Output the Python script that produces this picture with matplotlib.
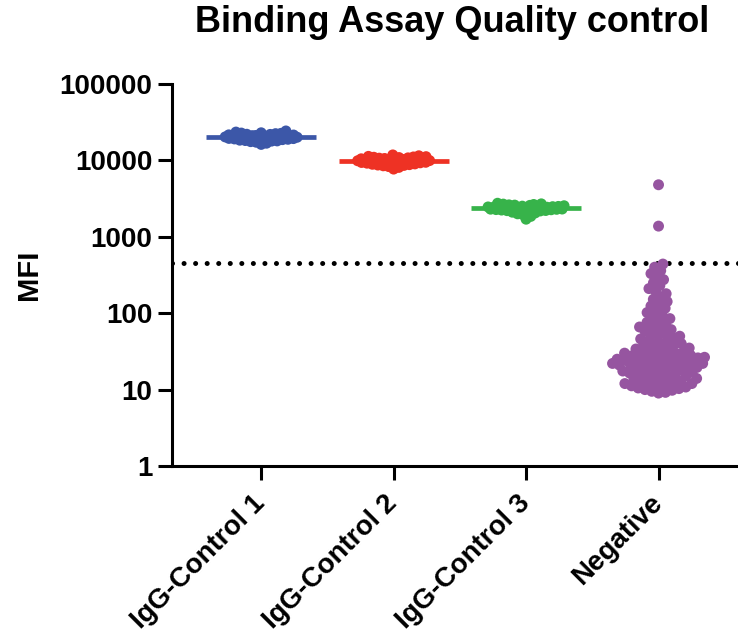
import numpy as np
import matplotlib.pyplot as plt

plt.rcParams['font.family'] = ['Liberation Sans', 'DejaVu Sans']
plt.rcParams['font.weight'] = 'bold'

# --- Data (MFI) ---
categories = ['IgG-Control 1', 'IgG-Control 2', 'IgG-Control 3', 'Negative']
colors = ['#3C57A8', '#EE3224', '#37B34A', '#9655A0']

ctrl1 = [19800, 20500, 21200, 18900, 20100, 22400, 19300, 20800, 17600, 21900,
         20300, 19100, 23500, 18400, 20600, 19700, 21500, 16800, 20000, 22000,
         19500, 18700, 20900, 24300, 19900, 21100, 17900, 20400, 19000, 22800,
         18200, 20700, 21600, 19400, 16200, 20200, 17300, 23000, 18000, 22600]
ctrl2 = [9800, 10200, 9500, 10600, 9100, 10900, 9900, 8700, 10400, 11800,
         9300, 10000, 8300, 9700, 11200, 9600, 10300, 8900, 10100, 7700,
         9400, 10700, 9200, 11500, 9850, 8500, 10500, 9000, 10050, 9650,
         11000, 8100, 9950, 10800, 9450, 10250, 8600, 11300, 8800, 11100]
ctrl3 = [2380, 2450, 2300, 2520, 2210, 2600, 2350, 2150, 2480, 2750,
         2280, 2400, 1950, 2330, 2650, 2260, 2550, 2100, 2420, 1700,
         2310, 2580, 2240, 2700, 2390, 2050, 2500, 2180, 2360, 2290,
         2620, 1850, 2410, 2460, 2200, 2340, 2270, 2440, 2000, 2680]
negative = [4800, 1380,
            440, 400, 360, 330, 300, 275, 250, 230, 210, 195, 180, 165, 152,
            142, 132, 124, 116, 108, 102, 96, 90, 85, 80, 76, 72, 69, 66,
            64, 61, 58, 56, 54, 52, 50, 48, 46, 45, 43, 42, 40, 39, 38, 37,
            36, 35, 34, 33,
            32, 31.5, 31, 30, 29.5, 29, 28.5, 28, 27.5, 27, 26.5, 26, 26,
            25.5, 25, 25, 24.5, 24, 24, 23.5, 23, 23, 22.5, 22, 22, 21.5,
            21, 21, 20.5, 20, 20, 19.5, 19, 19, 18.5, 18, 18, 17.5, 17, 17,
            16.5, 16, 16, 15.5, 15, 15, 14.5, 14, 14, 13.5, 13, 13, 12.5,
            12.5, 12, 12,
            11.8, 11.5, 11.2, 11, 10.8, 10.5, 10.3, 10, 9.8, 9.5, 9.2, 9.0]
groups = [ctrl1, ctrl2, ctrl3, negative]
show_median = [True, True, True, False]
cutoff = 450

# --- Figure ---
fig = plt.figure(figsize=(7.38, 6.36), dpi=100)
ax = fig.add_axes([0.2331, 0.2673, 0.7669, 0.6006])
xlim = (-0.673, 3.6)
ax.set_xlim(*xlim)
ax.set_yscale('log')
ax.set_ylim(1, 100000)

# pixel scales used for the swarm layout
pos = ax.get_position()
px_per_x = pos.width * fig.get_figwidth() * fig.dpi / (xlim[1] - xlim[0])
px_per_dec = pos.height * fig.get_figheight() * fig.dpi / 5.0


def swarm_offsets(values, d, half_w):
    """Beeswarm limited to +-half_w pixels; points overlap when crowded."""
    ys = np.log10(values) * px_per_dec
    order = np.argsort(ys)
    placed = []
    offs = np.zeros(len(ys))
    grid = np.linspace(-half_w, half_w, 41)
    for i in order:
        y = ys[i]
        near = [(px, py) for px, py in placed if abs(py - y) < d]
        cands = [0.0]
        for px, py in near:
            dx = np.sqrt(d**2 - (py - y)**2)
            cands += [px + dx, px - dx]
        best = None
        for c in sorted(cands, key=abs):
            if abs(c) > half_w:
                continue
            if all((c - px)**2 + (y - py)**2 >= d**2 - 1e-6 for px, py in near):
                best = c
                break
        if best is None:
            # no free spot: take the least crowded one inside the strip
            score = [min((g - px)**2 + (y - py)**2 for px, py in near) for g in grid]
            best = grid[int(np.argmax(score))]
        offs[i] = best
        placed.append((best, y))
    return offs / px_per_x


spacing = [5.5, 5.5, 5.5, 7.0]
half_width = [36, 36, 38, 46]
for i, (vals, col) in enumerate(zip(groups, colors)):
    xo = swarm_offsets(vals, spacing[i], half_width[i])
    ax.scatter(i + xo, vals, s=62, color=col, edgecolors='none', zorder=3)
    if show_median[i]:
        ax.plot([i - 0.415, i + 0.415], [np.median(vals)] * 2, color=col,
                lw=3.4, solid_capstyle='butt', zorder=2)

ax.axhline(cutoff, color='black', lw=3.6, linestyle=(0, (0.01, 2.3)),
           dash_capstyle='round', zorder=1)

ax.set_xticks(range(len(categories)))
ax.set_xticklabels(categories, rotation=45, ha='right', va='center',
                   rotation_mode='anchor', fontsize=20, fontweight='bold')
ax.set_yticks([1, 10, 100, 1000, 10000, 100000])
ax.set_yticklabels(['1', '10', '100', '1000', '10000', '100000'],
                   fontsize=20, fontweight='bold')
ax.minorticks_off()
ax.tick_params(axis='both', length=10, width=2.2, pad=4)
ax.tick_params(axis='x', pad=14)

for s in ['top', 'right']:
    ax.spines[s].set_visible(False)
for s in ['left', 'bottom']:
    ax.spines[s].set_linewidth(2.2)

ax.set_ylabel('MFI', fontsize=21, fontweight='bold', labelpad=12)
fig.text(0.612, 0.965, 'Binding Assay Quality control', ha='center', va='center',
         fontsize=26, fontweight='bold')

fig.savefig('out.png', dpi=100)
